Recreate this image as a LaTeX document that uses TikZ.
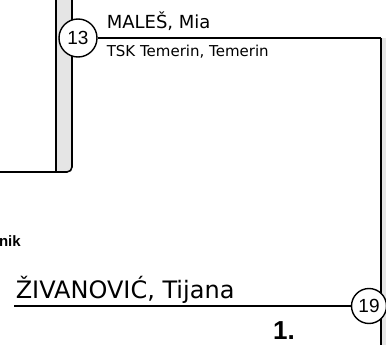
\documentclass[tikz,border=0pt]{standalone}
\usepackage{fontspec}
\setmainfont{DejaVu Sans}
\newfontfamily\numfont{Liberation Sans}
\definecolor{stripgrey}{RGB}{229,229,229}
\begin{document}
\begin{tikzpicture}[x=1pt,y=-1pt,line width=1.6pt,
  circ/.style={circle,draw,fill=white,minimum size=38pt,inner sep=0pt,line width=1.4pt,font=\numfont\fontsize{19}{19}\selectfont},
  txt/.style={inner sep=0pt}]
\useasboundingbox (0,0) rectangle (386,345);
% left strip
\fill[stripgrey,rounded corners=5pt] (56,-10) rectangle (72,172);
\coordinate (ltop) at (56,-10);
\coordinate (lbot) at (56,172);
\coordinate (bl) at (0,172);
\coordinate (rtop) at (72,-10);
\draw (ltop) -- (lbot);
\draw[rounded corners=5pt] (bl) -- (72,172) -- (rtop);
% right strip
\fill[stripgrey] (381,38) rectangle (392,350);
\coordinate (tr) at (381,38);
\coordinate (rb) at (381,350);
\draw (tr) -- (rb);
% match 13
\node[circ] (c13) at (78,38) {13};
\draw (c13.east) -- (tr);
\node[txt,anchor=base west,font=\fontsize{18}{18}\selectfont] (name1) at (106,29) {MALEŠ, Mia};
\node[txt,anchor=base west,font=\fontsize{15}{15}\selectfont] (club1) at (106,57) {TSK Temerin, Temerin};
% winner
\node[txt,anchor=base east,font=\numfont\bfseries\fontsize{15}{15}\selectfont] (nik) at (21.5,246) {nik};
\node[txt,anchor=base west,font=\fontsize{24}{24}\selectfont] (name2) at (15,298) {ŽIVANOVIĆ, Tijana};
\node[circ,minimum size=35pt] (c19) at (369,306) {19};
\coordinate (ul) at (14,306);
\draw (ul) -- (c19.west);
\node[txt,anchor=base,font=\numfont\bfseries\fontsize{26}{26}\selectfont] (place) at (284,339) {1.};
\end{tikzpicture}
\end{document}
